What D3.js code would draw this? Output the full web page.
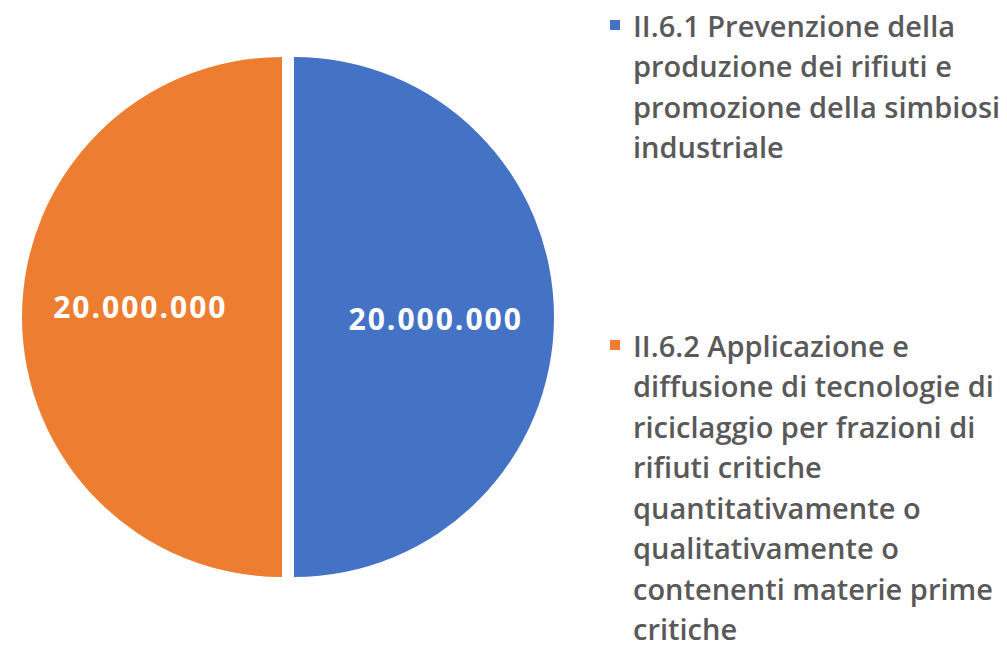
<!DOCTYPE html>
<html>
<head>
<meta charset="utf-8">
<script src="https://cdn.jsdelivr.net/npm/d3@7"></script>
<style>
  html, body { margin: 0; padding: 0; background: #ffffff; }
  svg { display: block; }
</style>
</head>
<body>
<svg id="chart" width="1007" height="655"></svg>
<script>
const categories = [
  "II.6.1 Prevenzione della produzione dei rifiuti e promozione della simbiosi industriale",
  "II.6.2 Applicazione e diffusione di tecnologie di riciclaggio per frazioni di rifiuti critiche quantitativamente o qualitativamente o contenenti materie prime critiche"
];
const values = [20000000, 20000000];
const legendLines = [
  ["II.6.1 Prevenzione della", "produzione dei rifiuti e", "promozione della simbiosi", "industriale"],
  ["II.6.2 Applicazione e", "diffusione di tecnologie di", "riciclaggio per frazioni di", "rifiuti critiche", "quantitativamente o", "qualitativamente o", "contenenti materie prime", "critiche"]
];
const colors = ["#4472C4", "#ED7D31"];

const svg = d3.select("#chart");
const cx = 288, cy = 317, r = 260, explode = 6;

const pie = d3.pie().sort(null).value(d => d)(values);
const arc = d3.arc().innerRadius(0).outerRadius(r);
const labelArc = d3.arc().innerRadius(r * 0.545).outerRadius(r * 0.545);
const fmt = v => d3.format(",")(v).replace(/,/g, ".");

const g = svg.append("g").attr("transform", `translate(${cx},${cy})`);
const slices = g.selectAll("g.slice").data(pie).enter().append("g")
  .attr("class", "slice")
  .attr("transform", d => {
    const a = (d.startAngle + d.endAngle) / 2;
    return `translate(${Math.sin(a) * explode},${-Math.cos(a) * explode})`;
  });
slices.append("path").attr("d", arc).attr("fill", (d, i) => colors[i]);
const labelDy = [1, -11];
slices.append("text")
  .attr("x", d => labelArc.centroid(d)[0])
  .attr("y", (d, i) => labelArc.centroid(d)[1] + labelDy[i])
  .attr("text-anchor", "middle")
  .attr("dominant-baseline", "central")
  .attr("fill", "#ffffff")
  .attr("font-family", "'Open Sans', sans-serif")
  .attr("font-weight", 700)
  .attr("font-size", 30)
  .attr("letter-spacing", 2)
  .text(d => fmt(d.data));

// Legend
const legendTop = [25, 345];
const lineH = 40.5;
const lg = svg.append("g");
legendLines.forEach((lines, i) => {
  lg.append("rect")
    .attr("x", 610).attr("y", legendTop[i] - 5)
    .attr("width", 10).attr("height", 10)
    .attr("fill", colors[i]);
  const t = lg.append("text")
    .attr("font-family", "'Open Sans', sans-serif")
    .attr("font-weight", 600)
    .attr("font-size", 29)
    .attr("fill", "#595959");
  lines.forEach((ln, j) => {
    t.append("tspan")
      .attr("x", 633)
      .attr("y", legendTop[i] + j * lineH)
      .attr("dominant-baseline", "central")
      .text(ln);
  });
});
</script>
</body>
</html>
